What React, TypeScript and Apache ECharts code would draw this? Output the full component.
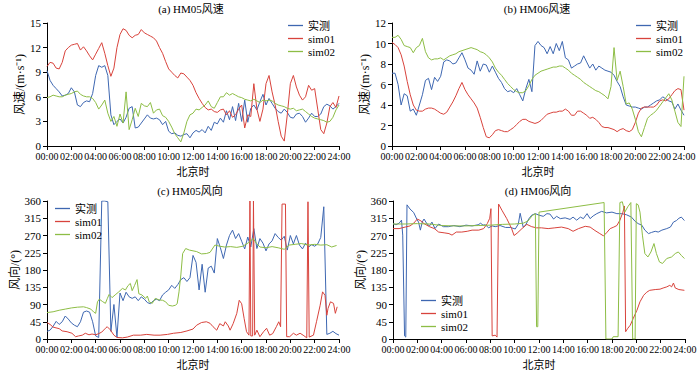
import React, { useEffect, useRef } from 'react';
import * as echarts from 'echarts';

// 15-minute time grid (hours 0..24)
const HOURS: number[] = Array.from({ length: 97 }, (_, i) => i / 4);
const SERIES_NAMES = ['实测', 'sim01', 'sim02'];
const TITLES = ['(a) HM05风速', '(b) HM06风速', '(c) HM05风向', '(d) HM06风向'];
const X_NAME = '北京时';
const Y_NAMES = ['风速/(m·s⁻¹)', '风速/(m·s⁻¹)', '风向/(°)', '风向/(°)'];

// (a) HM05 wind speed, 15-min grid
const A_OBS = [
  9.2, 8.0, 7.4, 7.0, 6.6, 6.1, 6.2, 6.4, 7.1, 6.6, 5.0, 4.8, 5.3, 5.5, 5.4, 6.4,
  8.6, 9.8, 9.6, 9.8, 8.6, 3.8, 2.6, 3.0,
  3.3, 2.8, 3.5, 4.6, 4.8, 2.2, 2.3, 2.8,
  3.3, 3.8, 3.4, 3.3, 3.4, 3.2, 2.6, 3.0,
  1.8, 1.5, 1.6, 1.3, 1.2, 1.4, 1.5, 1.0,
  1.6, 1.9, 1.7, 2.0, 1.6, 2.4, 1.9, 2.9,
  2.7, 3.4, 2.9, 4.3, 3.2, 4.8, 3.1, 5.2,
  3.0, 5.6, 2.9, 4.6, 5.0, 4.4, 5.4, 6.3,
  5.0, 5.8, 5.2, 4.6, 4.2, 4.0, 4.5, 4.1,
  3.5, 3.4, 3.9, 4.0, 3.6, 2.9, 3.4, 4.0,
  3.6, 3.6, 3.9, 4.8, 5.1, 4.9, 4.5, 4.8,
  5.2,
];
const A_SIM01 = [
  9.7, 10.2, 10.1, 9.5, 9.4, 10.2, 11.6, 12.0, 12.3, 12.4, 12.5, 11.7, 12.1, 11.6, 11.0, 10.5,
  11.2, 11.9, 12.6, 11.3, 9.8, 8.5, 9.5, 12.0,
  13.6, 14.3, 14.1, 13.5, 13.2, 13.5, 13.6, 14.2,
  13.8, 13.6, 13.4, 13.2, 12.8, 12.0, 11.3, 10.3,
  9.4, 9.0, 8.6, 8.3, 8.9, 8.8, 8.4, 8.0,
  7.4, 6.5, 5.8, 5.2, 4.7, 4.4, 4.5, 4.2,
  4.1, 4.4, 4.5, 3.8, 4.3, 3.5, 3.8, 4.5,
  5.0, 2.2, 3.8, 3.6, 7.6, 4.5, 3.0, 4.5,
  7.6, 8.6, 6.6, 5.0, 3.0, 1.2, 0.6, 3.8,
  7.6, 8.6, 7.2, 6.2, 5.6, 6.0, 7.4, 6.8,
  7.0, 4.5, 2.0, 1.5, 2.8, 4.8, 5.3, 4.7,
  6.1,
];
const A_SIM02 = [
  5.9, 6.0, 6.2, 6.1, 6.0, 6.0, 6.2, 6.3, 6.4, 6.6, 6.7, 6.3, 6.1, 6.0, 6.0, 5.8,
  5.3, 4.5, 5.0, 5.6, 4.0, 3.0, 3.6, 2.4,
  3.9, 2.8, 6.6, 2.0, 3.2, 4.6, 3.6, 5.2,
  4.9, 4.8, 5.3, 4.0, 4.4, 4.5, 3.7, 3.5,
  3.0, 2.3, 1.5, 1.0, 0.5, 1.6, 3.0, 3.8,
  4.0, 4.5, 4.4, 4.7, 5.0, 5.5, 4.8, 4.6,
  5.3, 6.0, 6.0, 6.5, 6.2, 6.4, 6.2, 6.0,
  5.9, 5.7, 5.6, 5.5, 5.7, 5.5, 5.3, 5.6,
  5.5, 5.6, 5.5, 5.2, 5.0, 4.9, 4.8, 4.6,
  4.5, 4.6, 4.3, 4.4, 4.5, 4.2, 3.9, 3.6,
  3.4, 3.3, 3.2, 3.1, 2.9, 3.0, 3.5, 4.4,
  5.0,
];

// (b) HM06 wind speed, 15-min grid
const B_OBS = [
  7.1, 7.1, 6.0, 4.0, 5.1, 4.9, 3.4, 3.6, 3.0, 4.0, 5.0, 6.4, 6.6, 5.5, 6.7, 6.3,
  6.8, 8.2, 8.4, 8.3, 8.0, 8.1, 8.6, 9.1,
  8.4, 7.6, 7.4, 7.0, 8.3, 7.3, 8.0, 7.9,
  7.2, 7.8, 7.2, 6.6, 6.2, 5.6, 5.3, 5.4,
  5.2, 5.6, 5.0, 4.4, 5.6, 6.5, 5.3, 9.8,
  10.2, 9.8, 9.6, 9.0, 9.7, 9.0, 10.0, 9.3,
  10.2, 8.6, 8.4, 7.6, 7.8, 8.0, 8.1, 8.8,
  8.2, 7.6, 8.0, 7.4, 7.8, 7.6, 7.4, 7.3,
  7.2, 6.9, 6.3, 5.8, 4.8, 4.0, 3.9, 3.8,
  3.8, 3.7, 3.6, 3.8, 3.8, 4.0, 4.2, 4.4,
  4.5, 4.8, 4.6, 4.4, 4.3, 3.6, 4.1, 3.5,
  3.0,
];
const B_SIM01 = [
  10.1, 9.9, 9.6, 8.9, 7.8, 6.3, 5.0, 4.0, 3.5, 3.4, 3.4, 3.6, 3.7, 3.7, 3.6, 3.4,
  3.2, 3.1, 3.3, 3.8, 4.3, 4.9, 5.6, 6.2,
  5.5, 5.0, 4.6, 4.2, 3.7, 2.8, 1.8, 0.9,
  0.8, 1.1, 1.5, 1.6, 1.5, 1.4, 1.4, 1.6,
  1.8, 2.1, 2.4, 2.6, 2.6, 2.4, 2.3, 2.2,
  2.3, 2.5, 2.8, 3.1, 3.2, 3.3, 3.3, 3.4,
  3.4, 3.6, 3.4, 3.0, 3.0, 3.4, 3.4, 3.2,
  3.0, 2.7, 2.8, 2.6, 2.3, 1.9, 1.8, 1.8,
  1.7, 1.6, 1.4, 1.6, 1.7, 1.5, 1.4, 1.6,
  2.3, 3.2, 3.7, 3.8, 3.8, 3.8, 3.8, 4.0,
  4.4, 4.5, 4.4, 4.6, 5.0, 5.4, 5.6, 5.5,
  3.5,
];
const B_SIM02 = [
  10.6, 10.6, 10.8, 10.4, 9.8, 9.7, 9.6, 9.1, 9.6, 9.8, 10.5, 9.2, 8.6, 8.4, 8.5, 8.5,
  8.6, 8.4, 8.6, 8.8, 8.9, 9.0, 9.2, 9.3,
  9.4, 9.5, 9.6, 9.5, 9.4, 9.2, 9.1, 8.9,
  8.6, 8.2, 7.6, 7.2, 6.9, 6.5, 6.1, 5.8,
  5.5, 5.3, 5.2, 5.2, 5.4, 5.9, 6.5, 6.9,
  7.1, 7.3, 7.4, 7.5, 7.6, 7.7, 7.7, 7.8,
  7.8, 7.6, 7.4, 7.1, 6.9, 6.7, 6.5, 6.2,
  6.0, 5.8, 5.6, 5.4, 5.3, 5.1, 4.9, 4.6,
  5.8, 9.6, 6.4, 7.3, 5.8, 4.1, 4.2, 3.6,
  2.6, 1.4, 0.9, 1.8, 2.7, 3.0, 3.2, 3.5,
  3.9, 4.3, 4.7, 5.1, 4.5, 3.4, 2.3, 1.9,
  6.8,
];

// (c) HM05 wind direction
const C_OBS = [
  20, 23, 33, 46, 38, 45, 60, 52, 42, 36, 32, 45, 70, 73, 70, 45,
  8, 4, 360, 360, 358, 20, 90, 5,
  120, 100, 122, 110, 106, 110, 100, 110,
  104, 95, 92, 100, 104, 100, 115, 122,
  128, 140, 132, 142, 155, 160, 150, 160,
  218, 200, 128, 195, 122, 185, 190, 172,
  262, 238, 210, 245, 270, 284, 262, 275,
  255, 235, 266, 240, 288, 236, 262, 250,
  230, 248, 256, 275, 265, 258, 268, 232,
  270, 248, 270, 245, 235, 250, 240, 246,
  242, 248, 265, 345, 12, 15, 20, 14,
  10,
];
// [hour, degrees] readings
const C_SIM01 = [
  [0, 43], [0.25, 38], [0.5, 31], [1, 27], [1.25, 21], [1.65, 19], [2.05, 15], [2.35, 6], [2.6, 8],
  [2.9, 10], [3.15, 15], [3.45, 11], [3.7, 13], [4, 11], [4.25, 14], [4.5, 18], [4.8, 28], [4.95, 32],
  [5.2, 24], [5.5, 10], [5.75, 4], [6.2, 3], [6.6, 5], [7.1, 10], [7.7, 10], [8.2, 12], [8.8, 10],
  [9.3, 10], [9.9, 12], [10.4, 15], [11, 17], [11.5, 21], [12, 26], [12.3, 36], [12.7, 43], [13.1, 45],
  [13.4, 41], [13.65, 32], [13.95, 23], [14.2, 40], [14.5, 34], [14.65, 45], [14.9, 34], [15.05, 23],
  [15.3, 40], [15.6, 67], [15.8, 101], [16, 92], [16.2, 54], [16.4, 19], [16.6, 10], [16.68, 360],
  [16.75, 8], [16.9, 8], [16.97, 360], [17.07, 10], [17.25, 23], [17.5, 6], [17.8, 19], [18.05, 28],
  [18.3, 10], [18.55, 14], [18.85, 32], [19.05, 45], [19.2, 32], [19.32, 352], [19.6, 352], [19.7, 6],
  [19.95, 6], [20.25, 15], [20.5, 10], [20.8, 15], [21.05, 10], [21.35, 3], [21.45, 358], [21.55, 5],
  [21.9, 10], [22.15, 45], [22.45, 88], [22.65, 123], [22.85, 114], [23.0, 62], [23.1, 80], [23.3, 97],
  [23.55, 93], [23.7, 67], [23.85, 84],
];
const C_SIM02 = [
  [0, 69], [0.5, 71], [1, 75], [1.5, 78], [2, 81], [2.5, 83], [3, 84], [3.25, 82], [3.6, 78], [3.85, 70],
  [4, 67], [4.15, 97], [4.3, 104], [4.55, 98], [4.8, 93], [4.95, 105], [5.1, 116], [5.35, 108],
  [5.6, 115], [5.9, 123], [6.2, 132], [6.45, 128], [6.65, 139], [6.85, 145], [7.0, 126], [7.2, 140],
  [7.4, 155], [7.55, 118], [7.8, 115], [8.1, 106], [8.25, 112], [8.4, 97], [8.65, 93], [8.9, 106],
  [9.2, 102], [9.5, 101], [9.75, 97], [10.0, 88], [10.3, 86], [10.55, 88], [10.7, 92], [10.85, 123],
  [11.0, 167], [11.15, 223], [11.4, 236], [11.7, 232], [12.0, 230], [12.3, 228], [12.7, 222],
  [13.1, 223], [13.4, 226], [13.8, 245], [14.2, 242], [14.6, 240], [15.1, 241], [15.6, 239],
  [16.1, 242], [16.6, 252], [16.95, 262], [17.2, 250], [17.5, 240], [18.0, 238], [18.5, 241],
  [19.0, 238], [19.5, 234], [19.9, 245], [20.4, 247], [20.9, 249], [21.5, 245], [22.0, 247],
  [22.5, 245], [23.0, 246], [23.4, 240], [23.8, 244],
];

// (d) HM06 wind direction, [hour, degrees]
const D_OBS = [
  [0, 301], [0.25, 298], [0.5, 302], [0.7, 310], [0.8, 271], [0.95, 8], [1.05, 5], [1.15, 350],
  [1.4, 339], [1.7, 330], [1.95, 313], [2.1, 305], [2.25, 284], [2.4, 305], [2.55, 313], [2.8, 300],
  [3.0, 295], [3.2, 305], [3.45, 288], [3.75, 300], [4.15, 293], [4.55, 293], [5.0, 296], [5.5, 293],
  [6.0, 297], [6.5, 295], [7.0, 298], [7.2, 302], [7.4, 297], [7.6, 298], [7.85, 290], [8.15, 295],
  [8.4, 293], [8.8, 296], [9.25, 291], [9.65, 291], [10.05, 287], [10.3, 300], [10.45, 328],
  [10.7, 292], [10.9, 297], [11.15, 313], [11.4, 323], [11.7, 327], [12.0, 323], [12.35, 320],
  [12.65, 327], [12.9, 326], [13.2, 313], [13.45, 320], [13.75, 314], [14.15, 316], [14.55, 312],
  [14.8, 318], [15.1, 310], [15.4, 318], [15.65, 314], [15.95, 327], [16.2, 314], [16.45, 321],
  [16.75, 327], [17.15, 333], [17.55, 329], [18.0, 331], [18.4, 327], [18.8, 327], [19.2, 324],
  [19.6, 318], [19.9, 307], [20.15, 301], [20.45, 297], [20.7, 284], [21.0, 275], [21.25, 278],
  [21.55, 281], [21.8, 279], [22.1, 284], [22.5, 288], [22.8, 292], [23.05, 305], [23.3, 309],
  [23.5, 315], [23.7, 318], [23.95, 309],
];
const D_SIM01 = [
  [0, 288], [0.5, 288], [1, 292], [1.4, 295], [1.7, 302], [2.0, 313], [2.3, 308], [2.55, 301],
  [3.0, 293], [3.4, 288], [3.75, 279], [4.2, 277], [4.6, 275], [4.85, 271], [5.2, 279], [5.65, 279],
  [6.1, 281], [6.5, 284], [7.05, 284], [7.45, 288], [7.75, 301], [7.95, 315], [8.05, 340], [8.15, 8],
  [8.4, 10], [8.55, 5], [8.68, 352], [8.95, 336], [9.35, 314], [9.75, 288], [9.95, 270], [10.2, 276],
  [10.6, 288], [11.0, 299], [11.4, 293], [11.8, 290], [12.2, 290], [12.75, 288], [13.3, 290],
  [13.85, 292], [14.4, 288], [14.8, 281], [15.25, 288], [15.8, 294], [16.2, 292], [16.6, 283],
  [17.0, 275], [17.3, 269], [17.55, 277], [17.85, 288], [18.15, 292], [18.4, 296], [18.65, 310],
  [18.9, 331], [19.02, 347], [19.12, 19], [19.3, 28], [19.5, 36], [19.75, 54], [20.05, 75],
  [20.3, 97], [20.6, 114], [20.85, 122], [21.1, 127], [21.55, 129], [21.95, 130], [22.2, 133],
  [22.5, 136], [22.75, 140], [22.9, 136], [23.05, 146], [23.2, 133], [23.5, 129], [23.95, 127],
];
const D_SIM02 = [
  [0, 300], [1, 300], [2, 301], [3, 300], [4, 296], [5, 295], [6, 295], [7, 296], [8, 297], [9, 299],
  [10, 300], [10.7, 302], [11.1, 308], [11.45, 322], [11.7, 327], [11.8, 32], [11.9, 32], [12.0, 331],
  [17.35, 356], [17.5, 0], [18.0, 0], [18.1, 6], [18.5, 6], [18.65, 356], [18.85, 358], [19.05, 331],
  [19.3, 345], [19.55, 356], [19.7, 0], [19.9, 0], [20.0, 353], [20.15, 350], [20.3, 331], [20.5, 271],
  [20.7, 223], [20.95, 214], [21.2, 227], [21.45, 249], [21.65, 223], [21.9, 201], [22.15, 197],
  [22.5, 210], [22.9, 214], [23.2, 223], [23.45, 227], [23.7, 218], [23.95, 210],
];

const COLORS = ['#3e67b1', '#d8433c', '#8dbd45'];
const FONT = '"Liberation Serif", "Times New Roman", "Noto Sans CJK SC", serif';

const onGrid = (vals: number[]) => vals.map((v, i) => [HOURS[i], v]);

export default function App() {
  const ref = useRef<HTMLDivElement>(null);
  useEffect(() => {
    if (!ref.current) return;
    const chart = echarts.init(ref.current, undefined, { renderer: 'svg' });

    const grids = [
      { left: 47, top: 23, width: 292, height: 123 },
      { left: 392, top: 23, width: 292, height: 123 },
      { left: 47, top: 201, width: 292, height: 138 },
      { left: 393, top: 201, width: 292, height: 138 },
    ].map((g) => ({ ...g, outerBoundsMode: 'none', containLabel: false }));

    const yRanges = [
      { max: 15, interval: 3, gap: 21 },
      { max: 12, interval: 2, gap: 21 },
      { max: 360, interval: 45, gap: 25 },
      { max: 360, interval: 45, gap: 24 },
    ];

    const xAxis = grids.map((_, gi) => ({
      type: 'value',
      gridIndex: gi,
      min: 0,
      max: 24,
      interval: 2,
      name: X_NAME,
      nameLocation: 'middle',
      nameGap: 20,
      nameTextStyle: { fontFamily: FONT, fontSize: 11, color: '#000' },
      axisLine: { show: true, onZero: false, lineStyle: { color: '#000', width: 1 } },
      axisTick: { show: true, length: 4, lineStyle: { color: '#000' } },
      axisLabel: {
        fontFamily: FONT,
        fontSize: 10,
        color: '#000',
        margin: 5,
        formatter: (v: number) => `${String(v).padStart(2, '0')}:00`,
      },
      splitLine: { show: false },
    }));

    const yAxis = grids.map((_, gi) => ({
      type: 'value',
      gridIndex: gi,
      min: 0,
      max: yRanges[gi].max,
      interval: yRanges[gi].interval,
      name: Y_NAMES[gi],
      nameLocation: 'middle',
      nameGap: yRanges[gi].gap,
      nameRotate: 90,
      nameTextStyle: { fontFamily: FONT, fontSize: 12, color: '#000' },
      axisLine: { show: true, onZero: false, lineStyle: { color: '#000', width: 1 } },
      axisTick: { show: true, length: 4, lineStyle: { color: '#000' } },
      axisLabel: { fontFamily: FONT, fontSize: 11, color: '#000', margin: 6 },
      splitLine: { show: false },
    }));

    const panels = [
      [onGrid(A_OBS), onGrid(A_SIM01), onGrid(A_SIM02)],
      [onGrid(B_OBS), onGrid(B_SIM01), onGrid(B_SIM02)],
      [onGrid(C_OBS), C_SIM01, C_SIM02],
      [D_OBS, D_SIM01, D_SIM02],
    ];

    const series: any[] = [];
    panels.forEach((p, gi) => {
      p.forEach((data, si) => {
        series.push({
          type: 'line',
          name: SERIES_NAMES[si],
          xAxisIndex: gi,
          yAxisIndex: gi,
          data,
          symbol: 'none',
          showSymbol: false,
          lineStyle: { color: COLORS[si], width: 1 },
          itemStyle: { color: COLORS[si] },
          emphasis: { disabled: true },
        });
      });
    });

    const legendPos = [
      { left: 288, top: 20 },
      { left: 636, top: 20 },
      { left: 55, top: 203 },
      { left: 421, top: 295 },
    ];
    const legend = legendPos.map((p) => ({
      ...p,
      orient: 'vertical',
      padding: 0,
      icon: 'rect',
      itemWidth: 15,
      itemHeight: 1.3,
      itemGap: 2,
      textStyle: { fontFamily: FONT, fontSize: 11, color: '#000', lineHeight: 11 },
      data: SERIES_NAMES,
      selectedMode: false,
    }));

    const titlePos = [
      [191, 9],
      [537, 9],
      [190, 191],
      [538, 191],
    ];
    const graphic = TITLES.map((t, i) => ({
      type: 'text',
      x: titlePos[i][0],
      y: titlePos[i][1],
      style: {
        text: t,
        fill: '#000',
        fontFamily: FONT,
        fontSize: 11,
        align: 'center',
        verticalAlign: 'middle',
      },
    }));

    chart.setOption({
      animation: false,
      backgroundColor: '#fff',
      grid: grids,
      xAxis,
      yAxis,
      legend,
      series,
      graphic,
    });
    return () => chart.dispose();
  }, []);

  return (
    <div
      ref={ref}
      style={{ position: 'absolute', left: 0, top: 0, width: 700, height: 370, background: '#fff' }}
    />
  );
}
